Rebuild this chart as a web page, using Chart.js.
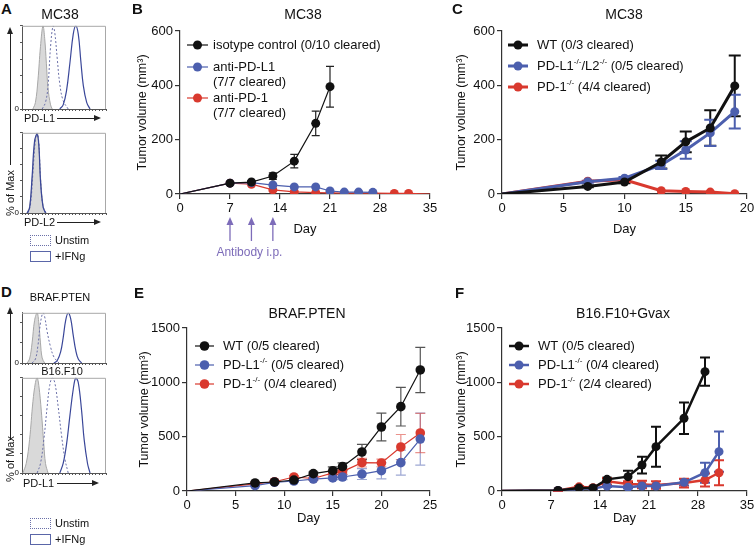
<!DOCTYPE html>
<html lang="en">
<head>
<meta charset="UTF-8">
<title>PD-L1 / PD-1 tumor growth</title>
<script src="https://cdn.jsdelivr.net/npm/chart.js"></script>
<style>
    html, body {
        margin: 0;
        padding: 0;
        width: 754px;
        height: 556px;
        overflow: hidden;
        background: #fff;
        font-family: "Liberation Sans", Arial, sans-serif;
        color: #111;
    }
    canvas { position: absolute; }
    .t { position: absolute; transform: translate(-50%, -50%); white-space: nowrap; line-height: 1; }
    .l { position: absolute; white-space: nowrap; line-height: 1; }
    .letter { position: absolute; font-weight: bold; font-size: 15px; line-height: 1; }
    .harr { position: absolute; height: 1px; background: #222; }
    .harr::after { content: ''; position: absolute; right: -2px; top: -3px; border-left: 7px solid #222; border-top: 3.5px solid transparent; border-bottom: 3.5px solid transparent; }
    .varr { position: absolute; width: 1px; background: #222; }
    .varr::after { content: ''; position: absolute; top: -2px; left: -3px; border-bottom: 7px solid #222; border-left: 3.5px solid transparent; border-right: 3.5px solid transparent; }
    .rot { position: absolute; transform: translate(-50%, -50%) rotate(-90deg); white-space: nowrap; font-size: 11px; line-height: 1; }
    .swatch { position: absolute; width: 19px; height: 9px; }
</style>
</head>
<body>
<canvas id="aTop" width="110" height="96" style="left:8px;top:20px"></canvas>
<canvas id="aBot" width="110" height="93" style="left:8px;top:127px"></canvas>
<canvas id="dTop" width="110" height="63" style="left:8px;top:307px"></canvas>
<canvas id="dBot" width="110" height="108" style="left:8px;top:372px"></canvas>
<canvas id="chartB" width="310" height="262" style="left:130px;top:0px"></canvas>
<canvas id="chartC" width="330" height="262" style="left:440px;top:0px"></canvas>
<canvas id="chartE" width="310" height="276" style="left:130px;top:280px"></canvas>
<canvas id="chartF" width="330" height="276" style="left:440px;top:280px"></canvas>

<div class="letter" style="left:1px;top:1px">A</div>
<div class="letter" style="left:132px;top:1px">B</div>
<div class="letter" style="left:452px;top:1px">C</div>
<div class="letter" style="left:1px;top:284px">D</div>
<div class="letter" style="left:134px;top:285px">E</div>
<div class="letter" style="left:455px;top:285px">F</div>

<div class="t" style="left:60px;top:14px;font-size:14px">MC38</div>
<div class="t" style="left:303px;top:14px;font-size:14px">MC38</div>
<div class="t" style="left:624px;top:14px;font-size:14px">MC38</div>
<div class="t" style="left:60px;top:297px;font-size:11px">BRAF.PTEN</div>
<div class="t" style="left:62px;top:371px;font-size:11px">B16.F10</div>
<div class="t" style="left:307px;top:313px;font-size:14px">BRAF.PTEN</div>
<div class="t" style="left:623px;top:313px;font-size:14px">B16.F10+Gvax</div>

<!-- flow panel axis labels -->
<div class="l" style="left:24px;top:113px;font-size:11px">PD-L1</div>
<div class="harr" style="left:57px;top:118px;width:42px"></div>
<div class="l" style="left:24px;top:217px;font-size:11px">PD-L2</div>
<div class="harr" style="left:57px;top:222px;width:42px"></div>
<div class="varr" style="left:10px;top:29px;height:136px"></div>
<div class="rot" style="left:10px;top:193px">% of Max</div>

<div class="l" style="left:23px;top:478px;font-size:11px">PD-L1</div>
<div class="harr" style="left:57px;top:483px;width:40px"></div>
<div class="varr" style="left:10px;top:309px;height:131px"></div>
<div class="rot" style="left:10px;top:459px">% of Max</div>

<div class="swatch" style="left:30px;top:235px;border:1px dotted #6b70a8"></div>
<div class="l" style="left:55px;top:235px;font-size:11px">Unstim</div>
<div class="swatch" style="left:30px;top:251px;border:1px solid #5a66a8"></div>
<div class="l" style="left:55px;top:251px;font-size:11px">+IFNg</div>

<div class="swatch" style="left:30px;top:518px;border:1px dotted #6b70a8"></div>
<div class="l" style="left:55px;top:518px;font-size:11px">Unstim</div>
<div class="swatch" style="left:30px;top:534px;border:1px solid #5a66a8"></div>
<div class="l" style="left:55px;top:534px;font-size:11px">+IFNg</div>

<script>
    // ---- flow histograms (x: % of axis width, y: % of max) ----
    const aTopIso    = [[13,0],[16,8],[19,35],[22,75],[25,100],[27,85],[29,55],[31,25],[34,5],[36,0]];
    const aTopUnstim = [[24,0],[28,8],[31,28],[34,75],[37,100],[39,92],[42,60],[45,30],[49,10],[55,0]];
    const aTopIfng   = [[45,0],[49,5],[53,22],[57,55],[61,90],[64,100],[67,90],[70,58],[73,28],[77,8],[81,0]];
    const aBotIso    = [[6,0],[9,8],[12,40],[15,85],[18,100],[20,85],[22,45],[25,10],[28,0]];
    const aBotUnstim = [[7,0],[10,10],[13,50],[16,92],[18,100],[20,88],[22,45],[25,8],[29,0]];
    const aBotIfng   = [[6,0],[9,6],[12,45],[15,90],[18,98],[20,85],[22,40],[25,8],[28,0]];
    const dTopIso    = [[6,0],[9,8],[12,40],[15,85],[18,100],[20,80],[22,40],[24,10],[27,0]];
    const dTopUnstim = [[12,0],[16,8],[19,35],[22,80],[25,100],[27,92],[30,62],[34,32],[38,12],[44,0]];
    const dTopIfng   = [[38,0],[42,5],[46,22],[49,50],[52,85],[55,100],[58,88],[61,55],[64,25],[67,8],[71,0]];
    const dBotIso    = [[1,0],[5,10],[9,35],[13,75],[16,95],[18,100],[20,92],[23,65],[26,30],[28,10],[31,0]];
    const dBotUnstim = [[18,0],[22,10],[26,35],[30,70],[33,92],[36,100],[39,95],[43,70],[47,40],[51,15],[55,0]];
    const dBotIfng   = [[45,0],[49,10],[53,30],[57,60],[61,88],[64,100],[67,95],[71,65],[74,35],[78,10],[81,0]];

    // ---- B: MC38 antibody treatment ----
    const bDaysIso = [0, 7, 10, 13, 16, 19, 21];
    const bIso     = [0, 40, 44, 66, 121, 260, 395];
    const bIsoErr  = [0, 4, 5, 12, 25, 45, 75];
    const bDaysPDL1 = [0, 7, 10, 13, 16, 19, 21, 23, 25, 27];
    const bPDL1     = [0, 40, 42, 33, 26, 26, 11, 7, 7, 6];
    const bDaysPD1  = [0, 7, 10, 13, 16, 19, 21, 23, 25, 27, 30, 32, 35];
    const bPD1      = [0, 40, 36, 15, 8, 5, 4, 3, 3, 3, 2, 2, 0];
    const antibodyDays = [7, 10, 13];
    const bLegend = [['isotype control (0/10 cleared)'], ['anti-PD-L1', '(7/7 cleared)'], ['anti-PD-1', '(7/7 cleared)']];

    // ---- C: MC38 knockouts ----
    const cDays   = [0, 7, 10, 13, 15, 17, 19];
    const cWT     = [0, 28, 44, 118, 192, 243, 398];
    const cWTErr  = [0, 3, 4, 24, 38, 65, 112];
    const cPDL    = [0, 45, 58, 107, 162, 225, 303];
    const cPDLErr = [0, 4, 5, 15, 32, 48, 62];
    const cPD1    = [0, 47, 52, 12, 9, 7, 1];
    const cLegend = [['WT (0/3 cleared)'], ['PD-L1^{-/-}/L2^{-/-} (0/5 cleared)'], ['PD-1^{-/-} (4/4 cleared)']];

    // ---- E: BRAF.PTEN ----
    const eDays    = [0, 7, 9, 11, 13, 15, 16, 18, 20, 22, 24];
    const eWT      = [0, 74, 83, 101, 160, 187, 224, 359, 589, 776, 1114];
    const eWTErr   = [0, 8, 8, 12, 15, 35, 35, 70, 128, 178, 208];
    const ePDL1    = [0, 50, 80, 92, 110, 120, 129, 156, 187, 261, 478];
    const ePDL1Err = [0, 8, 8, 10, 12, 15, 25, 50, 75, 115, 240];
    const ePD1     = [0, 65, 85, 129, 115, 166, 178, 261, 258, 405, 534];
    const ePD1Err  = [0, 8, 8, 12, 12, 20, 25, 40, 35, 115, 180];
    const eLegend  = [['WT (0/5 cleared)'], ['PD-L1^{-/-} (0/5 cleared)'], ['PD-1^{-/-} (0/4 cleared)']];

    // ---- F: B16.F10 + Gvax ----
    const fDaysWT  = [0, 8, 11, 13, 15, 18, 20, 22, 26, 29];
    const fWT      = [0, 5, 28, 28, 107, 132, 239, 408, 669, 1098];
    const fWTErr   = [0, 3, 10, 8, 15, 55, 77, 184, 145, 130];
    const fDays    = [0, 8, 11, 13, 15, 18, 20, 22, 26, 29, 31];
    const fPDL1    = [0, 5, 20, 22, 46, 34, 46, 46, 80, 168, 362];
    const fPDL1Err = [0, 3, 5, 5, 10, 10, 10, 10, 30, 93, 185];
    const fPD1     = [0, 5, 38, 30, 90, 64, 60, 55, 73, 101, 168];
    const fPD1Err  = [0, 3, 8, 8, 30, 25, 35, 35, 40, 60, 115];
    const fLegend  = [['WT (0/5 cleared)'], ['PD-L1^{-/-} (0/4 cleared)'], ['PD-1^{-/-} (2/4 cleared)']];

    const FONT = '"Liberation Sans", Arial, sans-serif';
    const AXIS = '#333';
    const BLACK = '#111';
    const BLUE = '#4c5fae';
    const RED = '#d9392e';
    const PURPLE = '#7d6cb9';
    Chart.defaults.font.family = FONT;
    Chart.defaults.color = '#111';

    // text with ^{...} superscripts
    function drawRich(ctx, str, x, y, size) {
        let cx = x;
        str.split(/(\^\{[^}]*\})/).forEach(p => {
            if (!p) return;
            if (p.startsWith('^{')) {
                const s = p.slice(2, -1);
                ctx.font = (size * 0.62) + 'px ' + FONT;
                ctx.fillText(s, cx, y - size * 0.33);
                cx += ctx.measureText(s).width;
            } else {
                ctx.font = size + 'px ' + FONT;
                ctx.fillText(p, cx, y);
                cx += ctx.measureText(p).width;
            }
        });
    }

    const errorBars = {
        id: 'errorBars',
        beforeDatasetsDraw(chart, args, opts) {
            const ctx = chart.ctx, xs = chart.scales.x, ys = chart.scales.y;
            ctx.save();
            chart.data.datasets.forEach(ds => {
                if (!ds.errors) return;
                ctx.strokeStyle = ds.errColor;
                ctx.lineWidth = opts.width;
                ds.data.forEach((p, i) => {
                    const e = ds.errors[i];
                    if (!e) return;
                    const px = xs.getPixelForValue(p.x);
                    const top = ys.getPixelForValue(p.y + e);
                    const bot = ys.getPixelForValue(Math.max(p.y - e, 0));
                    ctx.beginPath();
                    ctx.moveTo(px, top); ctx.lineTo(px, bot);
                    ctx.moveTo(px - opts.cap, top); ctx.lineTo(px + opts.cap, top);
                    ctx.moveTo(px - opts.cap, bot); ctx.lineTo(px + opts.cap, bot);
                    ctx.stroke();
                });
            });
            ctx.restore();
        }
    };

    const inLegend = {
        id: 'inLegend',
        afterDraw(chart, args, opts) {
            if (!opts.items) return;
            const ctx = chart.ctx;
            ctx.save();
            ctx.textBaseline = 'middle';
            opts.items.forEach((lines, i) => {
                const ds = chart.data.datasets[i];
                const y = opts.rows[i];
                ctx.strokeStyle = ds.borderColor;
                ctx.lineWidth = ds.borderWidth;
                ctx.beginPath();
                ctx.moveTo(opts.x0, y); ctx.lineTo(opts.x1, y);
                ctx.stroke();
                ctx.fillStyle = ds.borderColor;
                ctx.beginPath();
                ctx.arc((opts.x0 + opts.x1) / 2, y, opts.r, 0, Math.PI * 2);
                ctx.fill();
                ctx.fillStyle = '#111';
                lines.forEach((txt, k) => drawRich(ctx, txt, opts.tx, y + k * 15, 13));
            });
            ctx.restore();
        }
    };

    const antibodyArrows = {
        id: 'antibodyArrows',
        afterDraw(chart, args, opts) {
            if (!opts.days) return;
            const ctx = chart.ctx, xs = chart.scales.x;
            ctx.save();
            ctx.strokeStyle = PURPLE;
            ctx.fillStyle = PURPLE;
            ctx.lineWidth = 1.3;
            const px = opts.days.map(d => xs.getPixelForValue(d));
            px.forEach(x => {
                ctx.beginPath();
                ctx.moveTo(x, opts.tail); ctx.lineTo(x, opts.tip + 6);
                ctx.stroke();
                ctx.beginPath();
                ctx.moveTo(x, opts.tip); ctx.lineTo(x - 3.5, opts.tip + 8); ctx.lineTo(x + 3.5, opts.tip + 8);
                ctx.closePath();
                ctx.fill();
            });
            ctx.font = '12px ' + FONT;
            ctx.textAlign = 'center';
            ctx.textBaseline = 'middle';
            ctx.fillText('Antibody i.p.', (px[0] + px[px.length - 1]) / 2 - 2, opts.textY);
            ctx.restore();
        }
    };

    const histFrame = {
        id: 'histFrame',
        afterDraw(chart, args, opts) {
            if (!opts.on) return;
            const ctx = chart.ctx, a = chart.chartArea;
            ctx.save();
            ctx.strokeStyle = '#a8a8a8';
            ctx.lineWidth = 1;
            ctx.beginPath();
            ctx.moveTo(a.left, a.top + 0.5); ctx.lineTo(a.right - 0.5, a.top + 0.5); ctx.lineTo(a.right - 0.5, a.bottom);
            ctx.stroke();
            ctx.restore();
        }
    };

    Chart.register(errorBars, inLegend, antibodyArrows, histFrame);

    function pts(xs, ys) { return xs.map((x, i) => ({ x: x, y: ys[i] })); }

    function series(label, xs, ys, errs, color, lw, r, errColor) {
        return {
            label: label,
            data: pts(xs, ys),
            errors: errs,
            errColor: errColor || color,
            borderColor: color,
            backgroundColor: color,
            borderWidth: lw,
            pointRadius: c => (c.raw && (c.raw.x === 0 || c.raw.x > 33)) ? 0 : r,
            pointBorderWidth: 0,
            tension: 0
        };
    }

    function growthOptions(cfg) {
        return {
            responsive: false,
            animation: false,
            events: [],
            layout: { padding: cfg.pad },
            plugins: {
                legend: { display: false },
                tooltip: { enabled: false },
                errorBars: { width: cfg.errW, cap: cfg.cap },
                inLegend: cfg.legend,
                antibodyArrows: cfg.arrows || {}
            },
            scales: {
                x: {
                    type: 'linear', min: 0, max: cfg.xmax,
                    ticks: { stepSize: cfg.xstep, font: { size: 13 }, padding: 2, maxRotation: 0, autoSkip: false, color: '#111', callback: v => String(v) },
                    grid: { drawOnChartArea: false, tickLength: 5, color: AXIS, lineWidth: 1.2 },
                    border: { color: AXIS, width: 1.2 },
                    title: { display: true, text: 'Day', font: { size: 13 }, padding: 0, color: '#111' },
                    afterFit: s => { s.height = cfg.xh; }
                },
                y: {
                    type: 'linear', min: 0, max: cfg.ymax,
                    ticks: { stepSize: cfg.ystep, font: { size: 13 }, padding: 2, color: '#111', callback: v => String(v) },
                    grid: { drawOnChartArea: false, tickLength: 5, color: AXIS, lineWidth: 1.2 },
                    border: { color: AXIS, width: 1.2 },
                    title: { display: true, text: 'Tumor volume (mm³)', font: { size: 12.5 }, padding: 0, color: '#111' },
                    afterFit: s => { s.width = cfg.yw; }
                }
            }
        };
    }

    // B
    new Chart(document.getElementById('chartB'), {
        type: 'line',
        data: { datasets: [
            series('isotype', bDaysIso, bIso, bIsoErr, BLACK, 1.2, 4.5, '#222'),
            series('anti-PD-L1', bDaysPDL1, bPDL1, null, BLUE, 1.2, 4.5),
            series('anti-PD-1', bDaysPD1, bPD1, null, RED, 1.2, 4.5)
        ] },
        options: growthOptions({
            pad: { left: 5, right: 10, top: 31, bottom: 25 }, yw: 45, xh: 43,
            xmax: 35, xstep: 7, ymax: 600, ystep: 200, errW: 1.2, cap: 4,
            legend: { items: bLegend, rows: [45, 67, 98], x0: 57, x1: 78, tx: 83, r: 4.5 },
            arrows: { days: antibodyDays, tip: 217, tail: 241, textY: 253 }
        })
    });

    // C
    new Chart(document.getElementById('chartC'), {
        type: 'line',
        data: { datasets: [
            series('WT', cDays, cWT, cWTErr, BLACK, 3, 4.5),
            series('PD-L1/L2', cDays, cPDL, cPDLErr, BLUE, 3, 4.5),
            series('PD-1', cDays, cPD1, null, RED, 3, 4.5)
        ] },
        options: growthOptions({
            pad: { left: 14, right: 23, top: 31, bottom: 25 }, yw: 48, xh: 43,
            xmax: 20, xstep: 5, ymax: 600, ystep: 200, errW: 2, cap: 6,
            legend: { items: cLegend, rows: [45, 66, 87], x0: 68, x1: 88, tx: 97, r: 4.5 }
        })
    });

    // E
    new Chart(document.getElementById('chartE'), {
        type: 'line',
        data: { datasets: [
            series('WT', eDays, eWT, eWTErr, BLACK, 1.2, 4.8, '#555'),
            series('PD-L1', eDays, ePDL1, ePDL1Err, BLUE, 1.2, 4.8, 'rgba(76,95,174,0.55)'),
            series('PD-1', eDays, ePD1, ePD1Err, RED, 1.2, 4.8, 'rgba(217,57,46,0.55)')
        ] },
        options: growthOptions({
            pad: { left: 7, right: 10, top: 48, bottom: 30 }, yw: 50, xh: 35,
            xmax: 25, xstep: 5, ymax: 1500, ystep: 500, errW: 1.2, cap: 5,
            legend: { items: eLegend, rows: [66, 85, 104], x0: 65, x1: 84, tx: 93, r: 4.8 }
        })
    });

    // F
    new Chart(document.getElementById('chartF'), {
        type: 'line',
        data: { datasets: [
            series('WT', fDaysWT, fWT, fWTErr, BLACK, 2.5, 4.5),
            series('PD-L1', fDays, fPDL1, fPDL1Err, BLUE, 2.5, 4.5),
            series('PD-1', fDays, fPD1, fPD1Err, RED, 2.5, 4.5)
        ] },
        options: growthOptions({
            pad: { left: 14, right: 23, top: 48, bottom: 30 }, yw: 48, xh: 35,
            xmax: 35, xstep: 7, ymax: 1500, ystep: 500, errW: 2, cap: 5,
            legend: { items: fLegend, rows: [66, 85, 104], x0: 69, x1: 89, tx: 98, r: 4.5 }
        })
    });

    // flow histograms
    function histChart(id, iso, unstim, ifng) {
        const sets = [
            { data: ifng.map(p => ({ x: p[0], y: p[1] })), borderColor: '#3a4799', borderWidth: 1.2, fill: false, tension: 0.4, order: 1 },
            { data: unstim.map(p => ({ x: p[0], y: p[1] })), borderColor: '#6b70a8', borderWidth: 1, borderDash: [2, 2], fill: false, tension: 0.4, order: 2 },
            { data: iso.map(p => ({ x: p[0], y: p[1] })), borderColor: '#a8a8a8', backgroundColor: '#d9d9d9', borderWidth: 1, fill: 'origin', tension: 0.4, order: 3 }
        ];
        new Chart(document.getElementById(id), {
            type: 'line',
            data: { datasets: sets },
            options: {
                responsive: false,
                animation: false,
                events: [],
                layout: { padding: { left: 4, right: 12, top: 5, bottom: 3 } },
                elements: { point: { radius: 0 } },
                plugins: { legend: { display: false }, tooltip: { enabled: false }, histFrame: { on: true } },
                scales: {
                    x: {
                        type: 'linear', min: 0, max: 100,
                        ticks: { stepSize: 4, callback: () => '' },
                        grid: { drawOnChartArea: false, tickLength: 2, color: '#555' },
                        border: { color: '#555' },
                        afterFit: s => { s.height = 4; }
                    },
                    y: {
                        type: 'linear', min: 0, max: 100,
                        ticks: { stepSize: 20, font: { size: 8 }, padding: 1, callback: v => v === 0 ? '0' : '' },
                        grid: { drawOnChartArea: false, tickLength: 2, color: '#555' },
                        border: { color: '#555' },
                        afterFit: s => { s.width = 10; }
                    }
                }
            }
        });
    }

    histChart('aTop', aTopIso, aTopUnstim, aTopIfng);
    histChart('aBot', aBotIso, aBotUnstim, aBotIfng);
    histChart('dTop', dTopIso, dTopUnstim, dTopIfng);
    histChart('dBot', dBotIso, dBotUnstim, dBotIfng);
</script>
</body>
</html>
